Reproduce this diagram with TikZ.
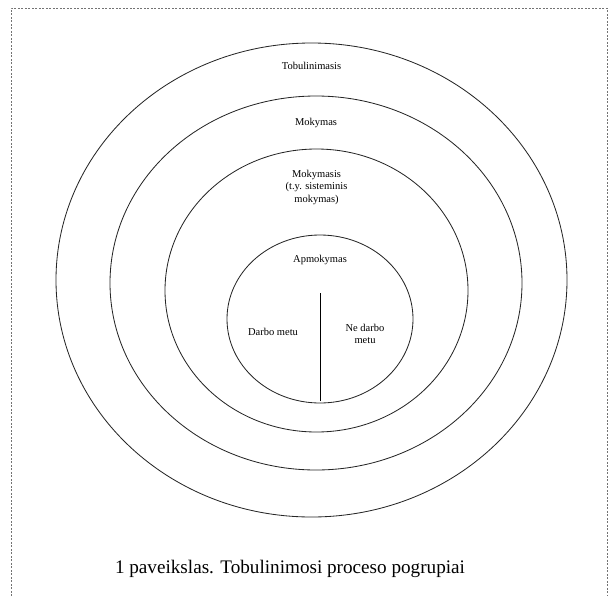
\documentclass[tikz,border=0pt]{standalone}
\usepackage{fontspec}
\setmainfont{Liberation Serif}
\usetikzlibrary{shapes,positioning}

\begin{document}
\begin{tikzpicture}[
		x=0.6pt, y=-0.6pt,
		ring/.style   = {draw=black!85, line width=0.5pt, ellipse, inner sep=0pt, outer sep=0pt},
		tag/.style    = {font=\fontsize{6.3}{7.5}\selectfont, align=center, inner sep=1pt},
		captext/.style= {font=\fontsize{11.5}{14}\selectfont, inner sep=0pt},
		frame/.style  = {draw=black!55, line width=0.4pt, dash pattern=on 1.2pt off 0.9pt}]
		
		\useasboundingbox (0,0) rectangle (609,596);
		
		% dashed frame, open at the bottom
		\draw[frame] (11,596) -- (11,8) -- (607,8) -- (607,596);
		
		% the rings, outside in
		\node[ring, minimum width=306.6pt, minimum height=284.4pt] (tobul) at (311.5,280) {};
		\node[ring, minimum width=247.2pt, minimum height=224.4pt] (mokym) at (316,283) {};
		\node[ring, minimum width=181.8pt, minimum height=169.8pt] (mokis) at (316.5,290.5) {};
		\node[ring, minimum width=111.6pt, minimum height=100.8pt] (apmok) at (320,319) {};
		
		% ring titles
		\begin{scope}[every node/.style={tag}]
		\node (ttobul) at ([yshift=-13.8pt]tobul.north) {Tobulinimasis};
		\node (tmokym) at ([yshift=-16.2pt]mokym.north) {Mokymas};
		\node (tmokis) at ([yshift=-22.8pt]mokis.north) {Mokymasis\\(t.y. sisteminis\\mokymas)};
		\node (tapmok) at ([yshift=-15pt]apmok.north) {Apmokymas};
		
		\node (darbo)  at ([xshift=-28.2pt, yshift=-7.8pt]apmok.center) {Darbo metu};
		\node (nedarb) at ([xshift=27pt, yshift=-9pt]apmok.center) {Ne darbo\\metu};
		\end{scope}
		
		% divider inside the inner ring
		\coordinate (divtop) at ([yshift=15.6pt]apmok.center);
		\draw[line width=0.6pt, shorten >=1.5pt] (divtop) -- (apmok.south);
		
		\node[captext] (capt) at (290,569) {1 paveikslas. Tobulinimosi proceso pogrupiai};
		
\end{tikzpicture}
\end{document}
